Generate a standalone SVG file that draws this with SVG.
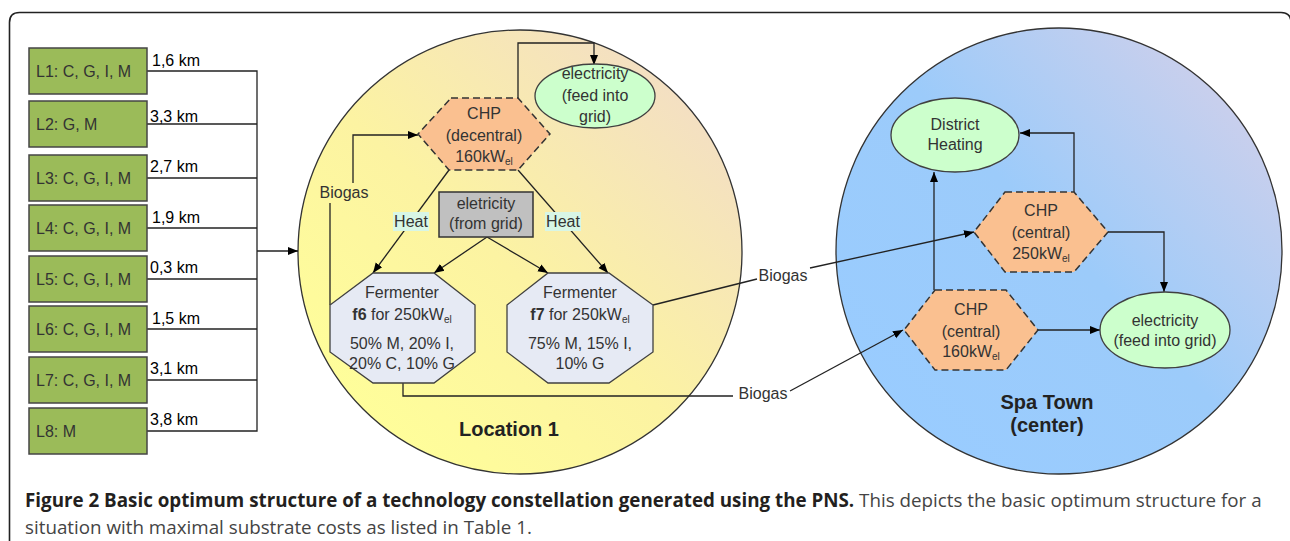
<svg xmlns="http://www.w3.org/2000/svg" width="1290" height="541" viewBox="0 0 1290 541">
<defs>
<linearGradient id="gY" x1="0.15" y1="0.95" x2="0.95" y2="0.1">
<stop offset="0" stop-color="#FFFF99"/>
<stop offset="0.45" stop-color="#FCF3A2"/>
<stop offset="1" stop-color="#F2DCC8"/>
</linearGradient>
<linearGradient id="gB" x1="0.1" y1="0.9" x2="0.95" y2="0.1">
<stop offset="0" stop-color="#99CCFF"/>
<stop offset="0.5" stop-color="#9CCBFA"/>
<stop offset="1" stop-color="#D2D0EA"/>
</linearGradient>
<marker id="ah" viewBox="0 0 10 10" refX="10" refY="5" markerWidth="10" markerHeight="10" markerUnits="userSpaceOnUse" orient="auto">
<path d="M0,1 L10,5 L0,9 Z" fill="#000"/>
</marker>
<style>
.t{font-family:"Liberation Sans",Arial,sans-serif;font-size:16px;fill:#333;text-anchor:middle}
.tl{font-family:"Liberation Sans",Arial,sans-serif;font-size:16px;fill:#333}
.km{font-family:"Liberation Sans",Arial,sans-serif;font-size:16px;fill:#000}
.b{font-family:"Liberation Sans",Arial,sans-serif;font-size:20px;font-weight:bold;fill:#222;text-anchor:middle}
.sub{font-size:10px}
.box{fill:#9BBB59;stroke:#454545;stroke-width:1.5}
.ln{fill:none;stroke:#222;stroke-width:1.3}
.ar{fill:none;stroke:#222;stroke-width:1.3;marker-end:url(#ah)}
.hex{fill:#FAC090;stroke:#333;stroke-width:1.5;stroke-dasharray:7,4}
.oct{fill:#E6EAF4;stroke:#404040;stroke-width:1.3}
.ell{fill:#CCFFCC;stroke:#404040;stroke-width:1.3}
.cap{font-family:"Open Sans","Noto Sans",sans-serif;font-size:18.8px;fill:#444}
</style>
</defs>
<rect x="0" y="0" width="1290" height="541" fill="#fff"/>
<path d="M9.5,541 L9.5,22.5 Q9.5,12.5 19.5,12.5 L1281,12.5 Q1291,12.5 1291,22.5 L1291,541" fill="none" stroke="#222" stroke-width="1.6"/>

<g id="location1">
<circle cx="520" cy="252" r="222" fill="url(#gY)" stroke="#333" stroke-width="1.3"/>
<text class="b" x="509" y="436">Location 1</text>
</g>
<g id="spatown">
<circle cx="1059" cy="251" r="223" fill="url(#gB)" stroke="#333" stroke-width="1.3"/>
<text class="b" x="1047" y="409">Spa Town</text>
<text class="b" x="1047" y="432">(center)</text>
</g>

<g id="connectors">
<polyline class="ln" points="147,71 257,71 257,431 147,431"/>
<line class="ln" x1="147" y1="124" x2="257" y2="124"/>
<line class="ln" x1="147" y1="178" x2="257" y2="178"/>
<line class="ln" x1="147" y1="228" x2="257" y2="228"/>
<line class="ln" x1="147" y1="279" x2="257" y2="279"/>
<line class="ln" x1="147" y1="329" x2="257" y2="329"/>
<line class="ln" x1="147" y1="380" x2="257" y2="380"/>
<line class="ar" x1="257" y1="251" x2="298" y2="251"/>
<polyline class="ar" points="518,98 518,43 594,43 594,65"/>
<polyline class="ln" points="330,305 330,203"/>
<polyline class="ar" points="353,183 353,135 418,135"/>
<line class="ar" x1="449" y1="170" x2="373" y2="273"/>
<line class="ar" x1="518" y1="170" x2="608" y2="273"/>
<line class="ar" x1="487" y1="237" x2="434" y2="273"/>
<line class="ar" x1="487" y1="237" x2="548" y2="273"/>
<polyline class="ln" points="403,383 403,396 733,396"/>
<line class="ar" x1="790" y1="391" x2="903" y2="330"/>
<line class="ln" x1="653" y1="305" x2="757" y2="279"/>
<line class="ar" x1="810" y1="268" x2="974" y2="232"/>
<line class="ar" x1="934" y1="290" x2="934" y2="172"/>
<polyline class="ar" points="1074,192 1074,133 1020,133"/>
<polyline class="ar" points="1108,232 1164,232 1164,292"/>
<line class="ar" x1="1038" y1="330" x2="1100" y2="330"/>
<text class="t" x="344" y="198">Biogas</text>
<text class="t" x="783" y="281">Biogas</text>
<text class="t" x="763" y="399">Biogas</text>
<rect x="393" y="212" width="36" height="19" fill="#D8F6E6"/>
<text class="t" x="411" y="227">Heat</text>
<rect x="545" y="212" width="36" height="19" fill="#D8F6E6"/>
<text class="t" x="563" y="227">Heat</text>
<text class="km" x="152" y="66">1,6 km</text>
<text class="km" x="150" y="122">3,3 km</text>
<text class="km" x="150" y="172">2,7 km</text>
<text class="km" x="152" y="223">1,9 km</text>
<text class="km" x="150" y="273">0,3 km</text>
<text class="km" x="152" y="324">1,5 km</text>
<text class="km" x="150" y="374">3,1 km</text>
<text class="km" x="150" y="425">3,8 km</text>
</g>

<g id="L1"><rect class="box" x="29" y="48" width="118" height="46"/><text class="tl" x="36" y="77">L1: C, G, I, M</text></g>
<g id="L2"><rect class="box" x="29" y="101" width="118" height="46"/><text class="tl" x="36" y="130">L2: G, M</text></g>
<g id="L3"><rect class="box" x="29" y="155" width="118" height="46"/><text class="tl" x="36" y="184">L3: C, G, I, M</text></g>
<g id="L4"><rect class="box" x="29" y="205" width="118" height="46"/><text class="tl" x="36" y="234">L4: C, G, I, M</text></g>
<g id="L5"><rect class="box" x="29" y="256" width="118" height="46"/><text class="tl" x="36" y="285">L5: C, G, I, M</text></g>
<g id="L6"><rect class="box" x="29" y="306" width="118" height="46"/><text class="tl" x="36" y="335">L6: C, G, I, M</text></g>
<g id="L7"><rect class="box" x="29" y="357" width="118" height="46"/><text class="tl" x="36" y="386">L7: C, G, I, M</text></g>
<g id="L8"><rect class="box" x="29" y="408" width="118" height="46"/><text class="tl" x="36" y="437">L8: M</text></g>

<g id="elec-feed-1">
<ellipse class="ell" cx="595" cy="96" rx="60" ry="32"/>
<text class="t" x="595" y="79">electricity</text>
<text class="t" x="595" y="101">(feed into</text>
<text class="t" x="595" y="122">grid)</text>
</g>
<g id="chp-decentral">
<polygon class="hex" points="451,98 518,98 550,134 518,170 449,170 418,134"/>
<text class="t" x="484" y="119">CHP</text>
<text class="t" x="484" y="141">(decentral)</text>
<text class="t" x="484" y="162">160kW<tspan class="sub" dy="3">el</tspan></text>
</g>
<g id="elec-from-grid">
<rect x="439" y="192" width="94" height="45" fill="#C0C0C0" stroke="#333" stroke-width="1.5"/>
<text class="t" x="486" y="209">eletricity</text>
<text class="t" x="486" y="229">(from grid)</text>
</g>
<g id="f6">
<polygon class="oct" points="373,273 434,273 475,305 475,352 434,383 373,383 330,352 330,305"/>
<text class="t" x="402" y="298">Fermenter</text>
<text class="t" x="402" y="320"><tspan font-weight="bold">f6</tspan> for 250kW<tspan class="sub" dy="3">el</tspan></text>
<text class="t" x="402" y="349">50% M, 20% I,</text>
<text class="t" x="402" y="369">20% C, 10% G</text>
</g>
<g id="f7">
<polygon class="oct" points="548,273 609,273 653,305 653,352 609,383 548,383 507,352 507,305"/>
<text class="t" x="580" y="298">Fermenter</text>
<text class="t" x="580" y="320"><tspan font-weight="bold">f7</tspan> for 250kW<tspan class="sub" dy="3">el</tspan></text>
<text class="t" x="580" y="349">75% M, 15% I,</text>
<text class="t" x="580" y="369">10% G</text>
</g>
<g id="district-heating">
<ellipse class="ell" cx="955" cy="135" rx="64" ry="37"/>
<text class="t" x="955" y="130">District</text>
<text class="t" x="955" y="150">Heating</text>
</g>
<g id="chp-central-250">
<polygon class="hex" points="1005,192 1074,192 1108,232 1074,272 1005,272 974,232"/>
<text class="t" x="1041" y="216">CHP</text>
<text class="t" x="1041" y="238">(central)</text>
<text class="t" x="1041" y="259">250kW<tspan class="sub" dy="3">el</tspan></text>
</g>
<g id="chp-central-160">
<polygon class="hex" points="935,290 1006,290 1038,330 1006,370 935,370 904,330"/>
<text class="t" x="971" y="315">CHP</text>
<text class="t" x="971" y="337">(central)</text>
<text class="t" x="971" y="357">160kW<tspan class="sub" dy="3">el</tspan></text>
</g>
<g id="elec-feed-2">
<ellipse class="ell" cx="1165" cy="330" rx="65" ry="38"/>
<text class="t" x="1165" y="326">electricity</text>
<text class="t" x="1165" y="346">(feed into grid)</text>
</g>

<g id="caption">
<text class="cap" x="25" y="507"><tspan font-weight="bold" fill="#231F20">Figure 2 Basic optimum structure of a technology constellation generated using the PNS.</tspan> This depicts the basic optimum structure for a</text>
<text class="cap" x="25" y="534">situation with maximal substrate costs as listed in Table 1.</text>
</g>
</svg>
